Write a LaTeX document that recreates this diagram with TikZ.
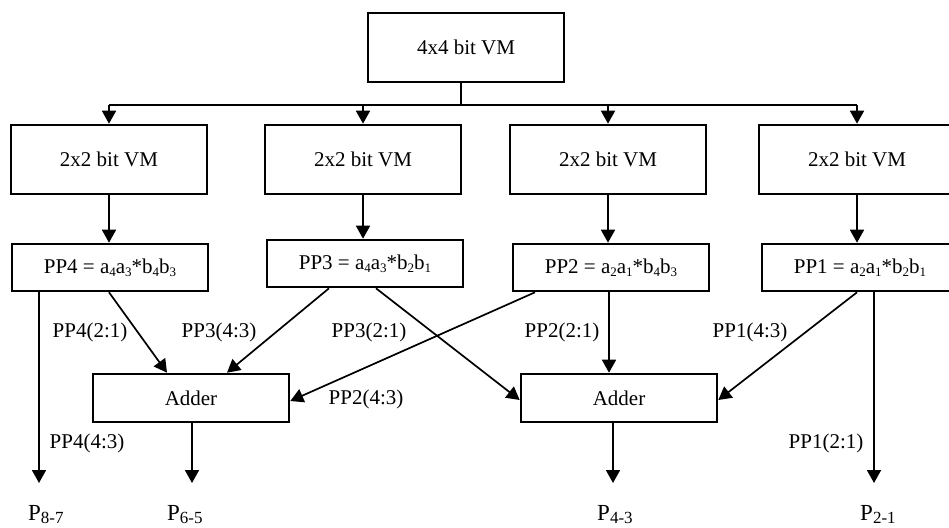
\documentclass[tikz,border=0pt]{standalone}
\usepackage{fontspec}
\setmainfont{Liberation Serif}
\usetikzlibrary{arrows.meta,calc}
% small lowered indices inside the partial-product boxes and the outputs
\newcommand\lsub[1]{\raisebox{-3pt}{\fontsize{13}{13}\selectfont #1}}
\newcommand\osub[1]{\raisebox{-3pt}{\fontsize{17}{17}\selectfont #1}}

\begin{document}
\begin{tikzpicture}[x=1pt,y=-1pt,
  blk/.style={draw, line width=2.6pt, inner sep=0pt, font=\fontsize{21}{24}\selectfont},
  vmbox/.style={blk, minimum width=196pt, minimum height=69pt},
  ppbox/.style={blk, minimum width=196pt, minimum height=47pt},
  addbox/.style={blk, minimum width=196pt, minimum height=48pt},
  wire/.style={line width=1.7pt, -{Triangle[length=13pt,width=14pt]}},
  bus/.style={line width=2.4pt},
  lbl/.style={font=\fontsize{21}{24}\selectfont, inner sep=0pt},
  outlbl/.style={font=\fontsize{23}{26}\selectfont, inner sep=0pt, anchor=base west}]
\clip (0,0) rectangle (949,527);

% multiplier blocks
\node[vmbox] (top) at (466,47.5) {4x4 bit VM};
\node[vmbox] (vm4) at (109,159.5) {2x2 bit VM};
\node[vmbox] (vm3) at (363,159.5) {2x2 bit VM};
\node[vmbox] (vm2) at (608,159.5) {2x2 bit VM};
\node[vmbox] (vm1) at (857,159.5) {2x2 bit VM};

% partial products
\node[ppbox] (pp4) at (110,267.5) {PP4 = a\lsub{4}a\lsub{3}*b\lsub{4}b\lsub{3}};
\node[ppbox] (pp3) at (365,263.5) {PP3 = a\lsub{4}a\lsub{3}*b\lsub{2}b\lsub{1}};
\node[ppbox] (pp2) at (611,267.5) {PP2 = a\lsub{2}a\lsub{1}*b\lsub{4}b\lsub{3}};
\node[ppbox] (pp1) at (860,267.5) {PP1 = a\lsub{2}a\lsub{1}*b\lsub{2}b\lsub{1}};

% adders
\node[addbox] (addL) at (191,398) {Adder};
\node[addbox] (addR) at (619,398) {Adder};

% distribution bus
\coordinate (busc) at (461,105);
\draw[bus] (top.south -| busc) -- (busc);
\draw[bus] (vm4.north |- busc) -- (vm1.north |- busc);
\foreach \v in {vm4,vm3,vm2,vm1}
  \draw[wire] (\v.north |- busc) -- (\v.north);

% 2x2 blocks to partial products
\draw[wire] (vm4.south) -- (vm4.south |- pp4.north);
\draw[wire] (vm3.south) -- (vm3.south |- pp3.north);
\draw[wire] (vm2.south) -- (vm2.south |- pp2.north);
\draw[wire] (vm1.south) -- (vm1.south |- pp1.north);

% end points of the output arrows
\coordinate (e87) at (39,483);
\coordinate (e65) at (192,483);
\coordinate (e43) at (613,483);
\coordinate (e21) at (874,483);

% partial products to adders and outputs
\draw[wire] ([xshift=-71pt]pp4.south) -- (e87);
\draw[wire] ([xshift=-1pt]pp4.south) -- ([xshift=-24pt]addL.north);
\draw[wire] ([xshift=-36pt]pp3.south) -- ([xshift=36pt]addL.north);
\draw[wire] ([xshift=11pt]pp3.south) -- ([yshift=-2pt]addR.west);
\draw[wire] ([xshift=-76pt]pp2.south) -- ([yshift=-3pt]addL.east);
\draw[wire] ([xshift=-2pt]pp2.south) -- ([xshift=-2pt]pp2.south |- addR.north);
\draw[wire] ([xshift=-3pt]pp1.south) -- ([yshift=-2pt]addR.east);
\draw[wire] ([xshift=14pt]pp1.south) -- (e21);
\draw[wire] (addL.south -| e65) -- (e65);
\draw[wire] (addR.south -| e43) -- (e43);

% bit-range labels
\node[lbl] (l42) at (90,332) {PP4(2:1)};
\node[lbl] (l34) at (219,332) {PP3(4:3)};
\node[lbl] (l32) at (369,332) {PP3(2:1)};
\node[lbl] (l24) at (366,399) {PP2(4:3)};
\node[lbl] (l22) at (562,332) {PP2(2:1)};
\node[lbl] (l14) at (750,332) {PP1(4:3)};
\node[lbl] (l44) at (87,443) {PP4(4:3)};
\node[lbl] (l12) at (826,443) {PP1(2:1)};

% product outputs
\node[outlbl] (p87) at (28,520) {P\osub{8-7}};
\node[outlbl] (p65) at (167,520) {P\osub{6-5}};
\node[outlbl] (p43) at (597,520) {P\osub{4-3}};
\node[outlbl] (p21) at (860,520) {P\osub{2-1}};
\end{tikzpicture}
\end{document}
